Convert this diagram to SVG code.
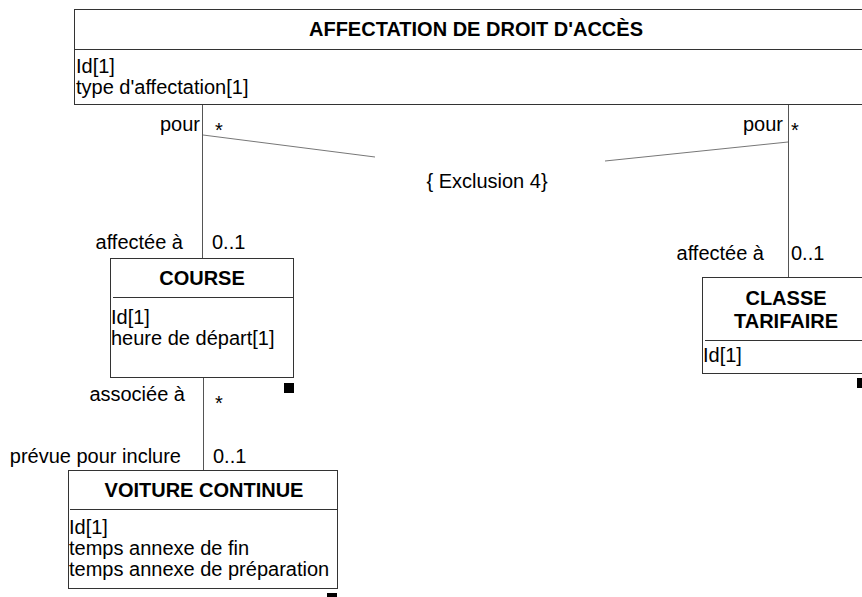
<svg xmlns="http://www.w3.org/2000/svg" width="862" height="597" viewBox="0 0 862 597">
<style>
  text { font-family: "Liberation Sans", Arial, sans-serif; font-size: 20px; fill: #000; }
  .t { font-weight: bold; text-anchor: middle; }
  .r { text-anchor: end; }
  .box { fill: #fff; stroke: #333; stroke-width: 1; }
  .sep { stroke: #333; stroke-width: 1; }
  .conn { stroke: #555; stroke-width: 1; fill: none; }
  .cons { stroke: #777; stroke-width: 1; fill: none; }
  .mark { fill: #000; }
</style>
<rect width="862" height="597" fill="#fff"/>

<g id="connectors">
  <line class="conn" x1="202.5" y1="104.5" x2="202.5" y2="258.5"/>
  <line class="conn" x1="788.5" y1="104.5" x2="788.5" y2="277.5"/>
  <line class="conn" x1="203.5" y1="377.5" x2="203.5" y2="470.5"/>
  <line class="cons" x1="203" y1="135" x2="375" y2="157"/>
  <line class="cons" x1="605" y1="161" x2="788" y2="142"/>
  <text class="r" x="200" y="131">pour</text>
  <text x="215" y="137">*</text>
  <text class="r" x="783" y="131">pour</text>
  <text x="791" y="137">*</text>
  <text x="487" y="188" text-anchor="middle" font-size="21">{ Exclusion 4}</text>
  <text class="r" x="183" y="249">affectée à</text>
  <text x="212" y="249">0..1</text>
  <text class="r" x="764" y="260">affectée à</text>
  <text x="791" y="260">0..1</text>
  <text class="r" x="185" y="401">associée à</text>
  <text x="215" y="410">*</text>
  <text class="r" x="181" y="463">prévue pour inclure</text>
  <text x="213" y="463">0..1</text>
</g>

<g id="affectation">
  <rect class="box" x="74.5" y="9.5" width="803" height="95"/>
  <line class="sep" x1="74.5" y1="49.5" x2="877.5" y2="49.5"/>
  <text class="t" x="476" y="36">AFFECTATION DE DROIT D'ACCÈS</text>
  <text x="76" y="73">Id[1]</text>
  <text x="76" y="94">type d'affectation[1]</text>
</g>

<g id="course">
  <rect class="box" x="110.5" y="258.5" width="183" height="119"/>
  <line class="sep" x1="113" y1="297.5" x2="293" y2="297.5"/>
  <text class="t" x="202" y="285">COURSE</text>
  <text x="111" y="324">Id[1]</text>
  <text x="111" y="345">heure de départ[1]</text>
  <rect class="mark" x="284" y="383" width="10" height="10"/>
</g>

<g id="voiture-continue">
  <rect class="box" x="68.5" y="470.5" width="269" height="118"/>
  <line class="sep" x1="70" y1="509.5" x2="337" y2="509.5"/>
  <text class="t" x="204" y="497">VOITURE CONTINUE</text>
  <text x="69" y="534">Id[1]</text>
  <text x="69" y="555">temps annexe de fin</text>
  <text x="69" y="576">temps annexe de préparation</text>
  <rect class="mark" x="327" y="593" width="10" height="10"/>
</g>

<g id="classe-tarifaire">
  <rect class="box" x="702.5" y="277.5" width="164" height="96"/>
  <line class="sep" x1="705" y1="340.5" x2="866.5" y2="340.5"/>
  <text class="t" x="786" y="305">CLASSE</text>
  <text class="t" x="786" y="328">TARIFAIRE</text>
  <text x="703" y="362">Id[1]</text>
  <rect class="mark" x="857" y="378" width="10" height="10"/>
</g>
</svg>
